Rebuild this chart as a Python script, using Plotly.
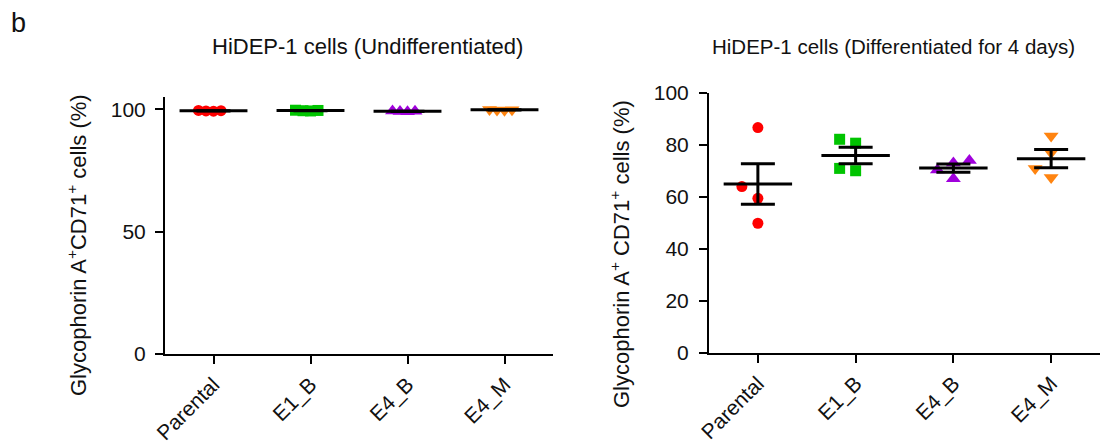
import numpy as np
import plotly.graph_objects as go

# ---------------- data ----------------
categories = ["Parental", "E1_B", "E4_B", "E4_M"]

undiff_parental = [99.4, 99.2, 99.5, 99.3]
undiff_e1b = [99.5, 99.3, 99.6, 99.4]
undiff_e4b = [99.1, 99.0, 99.3, 99.2]
undiff_e4m = [99.8, 99.7, 99.9, 99.6]

diff_parental = [86.7, 64.0, 59.5, 49.9]
diff_e1b = [82.2, 80.7, 70.1, 71.0]
diff_e4b = [73.1, 74.0, 67.0, 70.4]
diff_e4m = [83.5, 77.0, 71.0, 67.5]

left_yticks = [0, 50, 100]
right_yticks = [0, 20, 40, 60, 80, 100]

# ---------------- styles ----------------
colors = ["#FF0000", "#00C400", "#A000DC", "#FF8410"]
symbols = ["circle", "square", "triangle-up", "triangle-down"]
msizes = [11, 11, 13, 13]
FONT = "Liberation Sans, Arial, sans-serif"
W, H = 1101, 445

# panel geometry in px
L = dict(x0=165, x1=553, y0=354, y1=97, yr=(0, 105))
R = dict(x0=709, x1=1100, y0=353, y1=93, yr=(0, 100))


def spread(vals, ypx, xpx, step_px, gap_px):
    """Greedy horizontal spreading of overlapping points (scatter dot plot)."""
    vals = np.asarray(vals, float)
    order = np.argsort(vals)
    placed = []
    offs = [0.0] * len(vals)
    cands = [0]
    for k in range(1, 8):
        cands += [-k, k]
    for i in order:
        y = vals[i] * ypx
        x = 0.0
        for k in cands:
            x = k * step_px
            if all(np.hypot(x - px, y - py) >= gap_px for px, py in placed):
                break
        placed.append((x, y))
        offs[i] = x / xpx
    return offs


fig = go.Figure()


def add_panel(groups, xa, ya, geom, step_px, gap_px):
    xpx = (geom["x1"] - geom["x0"]) / 4.0
    ypx = (geom["y0"] - geom["y1"]) / (geom["yr"][1] - geom["yr"][0])
    for gi, vals in enumerate(groups):
        offs = spread(vals, ypx, xpx, step_px, gap_px)
        fig.add_trace(go.Scatter(
            x=[gi + o for o in offs], y=vals, mode="markers",
            marker=dict(symbol=symbols[gi], size=msizes[gi], color=colors[gi],
                        line=dict(width=0)),
            xaxis=xa, yaxis=ya, showlegend=False, hoverinfo="y"))
    for gi, vals in enumerate(groups):
        v = np.asarray(vals, float)
        m = v.mean()
        sem = v.std(ddof=1) / np.sqrt(len(v))
        fig.add_trace(go.Scatter(
            x=[gi - 0.35, gi + 0.35], y=[m, m], mode="lines",
            line=dict(color="black", width=3),
            xaxis=xa, yaxis=ya, showlegend=False, hoverinfo="skip"))
        fig.add_trace(go.Scatter(
            x=[gi], y=[m], mode="markers", marker=dict(size=1, opacity=0),
            error_y=dict(type="data", array=[sem], visible=True,
                         color="black", thickness=3, width=17),
            xaxis=xa, yaxis=ya, showlegend=False, hoverinfo="skip"))


add_panel([undiff_parental, undiff_e1b, undiff_e4b, undiff_e4m], "x", "y", L, 7.5, 7)
add_panel([diff_parental, diff_e1b, diff_e4b, diff_e4m], "x2", "y2", R, 16, 12)

axis_common = dict(showline=True, linecolor="black", linewidth=2, ticks="outside",
                   ticklen=8, tickwidth=2, tickcolor="black", showgrid=False,
                   zeroline=False, automargin=False,
                   tickfont=dict(family=FONT, size=21, color="#111"))


def xdom(g):
    return [g["x0"] / W, g["x1"] / W]


def ydom(g):
    return [(H - g["y0"]) / H, (H - g["y1"]) / H]


fig.update_layout(
    width=W, height=H, margin=dict(l=0, r=0, t=0, b=0, pad=0),
    paper_bgcolor="white", plot_bgcolor="white",
    xaxis=dict(domain=xdom(L), range=[-0.5, 3.5], tickmode="array",
               tickvals=list(range(4)), ticktext=categories, tickangle=-45,
               anchor="y", **axis_common),
    yaxis=dict(domain=ydom(L), range=list(L["yr"]), tickmode="array",
               tickvals=left_yticks, anchor="x", ticklabelstandoff=5,
               **axis_common),
    xaxis2=dict(domain=xdom(R), range=[-0.5, 3.5], tickmode="array",
                tickvals=list(range(4)), ticktext=categories, tickangle=-45,
                anchor="y2", **axis_common),
    yaxis2=dict(domain=ydom(R), range=list(R["yr"]), tickmode="array",
                tickvals=right_yticks, anchor="x2", ticklabelstandoff=6,
                **axis_common),
)

ann_font = dict(family=FONT, size=22, color="#111")
fig.add_annotation(text="b", x=9 / W, y=1 - 6 / H, xref="paper", yref="paper",
                   xanchor="left", yanchor="top", showarrow=False,
                   font=dict(family=FONT, size=27, color="#111"))
fig.add_annotation(text="HiDEP-1 cells (Undifferentiated)", x=367 / W, y=1 - 47 / H,
                   xref="paper", yref="paper", xanchor="center", yanchor="middle",
                   showarrow=False, font=ann_font)
fig.add_annotation(text="HiDEP-1 cells (Differentiated for 4 days)", x=893 / W,
                   y=1 - 47 / H, xref="paper", yref="paper", xanchor="center",
                   yanchor="middle", showarrow=False,
                   font=dict(family=FONT, size=20.5, color="#111"))
fig.add_annotation(text="Glycophorin A<sup>+</sup>CD71<sup>+</sup> cells (%)",
                   x=77 / W, y=1 - 245 / H, xref="paper", yref="paper",
                   xanchor="center", yanchor="middle", textangle=-90,
                   showarrow=False, font=ann_font)
fig.add_annotation(text="Glycophorin A<sup>+</sup> CD71<sup>+</sup> cells (%)",
                   x=620 / W, y=1 - 254 / H, xref="paper", yref="paper",
                   xanchor="center", yanchor="middle", textangle=-90,
                   showarrow=False, font=ann_font)

fig.write_html("out.html",
               config={"displayModeBar": False},
               post_script="document.body.style.margin='0';"
                           "document.body.style.overflow='hidden';")
